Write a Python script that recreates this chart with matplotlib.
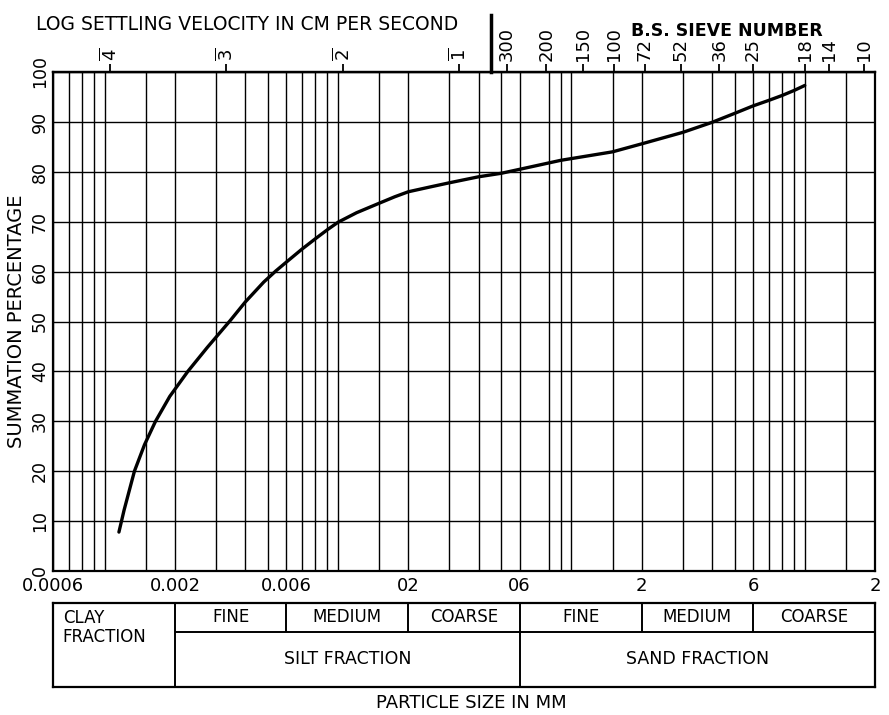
import matplotlib
matplotlib.use("Agg")
import matplotlib.pyplot as plt
from matplotlib.ticker import NullFormatter, NullLocator
import numpy as np

# grading curve (particle size in mm, summation %)
size_mm = [0.00115, 0.00121, 0.00128, 0.00134, 0.00148, 0.00165, 0.0019, 0.00227,
           0.00275, 0.00345, 0.0040, 0.0048, 0.0054, 0.006, 0.007, 0.008, 0.009,
           0.01, 0.012, 0.015, 0.0175, 0.02, 0.025, 0.03, 0.04, 0.05, 0.06, 0.09,
           0.15, 0.2, 0.3, 0.4, 0.5, 0.6, 0.7, 0.8, 0.9, 1.0]
percent = [7.8, 12.2, 16.5, 20.0, 25.3, 30.0, 35.0, 40.0,
           44.8, 50.2, 53.9, 57.9, 60.1, 61.9, 64.5, 66.6, 68.4,
           69.9, 71.8, 73.7, 75.0, 76.0, 77.0, 77.8, 79.0, 79.7, 80.5, 82.3,
           84.0, 85.6, 87.9, 89.9, 91.7, 93.2, 94.3, 95.3, 96.3, 97.3]

# bottom scale
bottom_ticks = [0.0006, 0.002, 0.006, 0.02, 0.06, 0.2, 0.6, 2]
bottom_labels = ["0.0006", "0.002", "0.006", "02", "06", "2", "6", "2"]
grid_sizes = [0.0007, 0.0008, 0.0009, 0.001, 0.0015, 0.002, 0.003, 0.004, 0.005,
              0.006, 0.007, 0.008, 0.009, 0.01, 0.015, 0.02, 0.03, 0.04, 0.05,
              0.06, 0.08, 0.09, 0.1, 0.15, 0.2, 0.3, 0.4, 0.5, 0.6, 0.7, 0.8,
              0.9, 1.0, 1.5]
pct_ticks = list(range(0, 101, 10))

# top scales
velocity_sizes = [0.00105, 0.0033, 0.0105, 0.033]
velocity_labels = [r"$\overline{4}$", r"$\overline{3}$", r"$\overline{2}$", r"$\overline{1}$"]
sieve_sizes = [0.053, 0.078, 0.112, 0.152, 0.206, 0.295, 0.43, 0.6, 1.0, 1.27, 1.8]
sieve_labels = ["300", "200", "150", "100", "72", "52", "36", "25", "18", "14", "10"]
scale_split = 0.045

# classification table under the chart
major_edges = [0.0006, 0.002, 0.06, 2]
major_names = ["CLAY\nFRACTION", "SILT FRACTION", "SAND FRACTION"]
sub_edges = [0.002, 0.006, 0.02, 0.06, 0.2, 0.6, 2]
sub_names = ["FINE", "MEDIUM", "COARSE", "FINE", "MEDIUM", "COARSE"]

W, H = 889, 715
fig = plt.figure(figsize=(W / 100, H / 100), dpi=100)


def fx(px):
    return px / W


def fy(py):
    return 1 - py / H


left, right, top, bottom = 53, 875, 72, 571
ax = fig.add_axes([fx(left), fy(bottom), fx(right) - fx(left), fy(top) - fy(bottom)])
ax.plot(size_mm, percent, color="black", lw=2.4, solid_joinstyle="round",
        solid_capstyle="round", zorder=3)
ax.set_xscale("log")
ax.set_xlim(0.0006, 2)
ax.set_ylim(0, 100)
ax.set_xticks(bottom_ticks, labels=bottom_labels)
ax.set_xticks(grid_sizes, minor=True)
ax.xaxis.set_minor_formatter(NullFormatter())
ax.set_yticks(pct_ticks, labels=[str(p) for p in pct_ticks])
for lab in ax.get_yticklabels():
    lab.set_rotation(90)
    lab.set_va("center")
ax.tick_params(which="both", length=0)
ax.tick_params(axis="x", pad=4, labelsize=13)
ax.tick_params(axis="y", pad=3, labelsize=12.5)
ax.grid(True, which="both", color="black", lw=1.0)
for s in ax.spines.values():
    s.set_linewidth(1.6)

# top axis: settling velocity + sieve numbers
sec = ax.secondary_xaxis("top")
sec.set_xticks(velocity_sizes + sieve_sizes, labels=velocity_labels + sieve_labels)
sec.xaxis.set_minor_locator(NullLocator())
sec.tick_params(axis="x", direction="out", length=6, width=1.3, pad=2,
                labelsize=13, labelrotation=90)
sec.spines["top"].set_linewidth(1.6)
ax.plot([scale_split, scale_split], [1, 1 + (top - 15) / (bottom - top)],
        transform=ax.get_xaxis_transform(), color="black", lw=2.5, clip_on=False)

fig.text(fx(247), fy(24), "LOG SETTLING VELOCITY IN CM PER SECOND",
         ha="center", va="center", fontsize=13.5)
fig.text(fx(727), fy(31), "B.S. SIEVE NUMBER", ha="center", va="center",
         fontsize=12.5, weight="bold")
fig.text(fx(17), fy(321), "SUMMATION PERCENTAGE", rotation=90,
         ha="center", va="center", fontsize=14)

# table
t_top, t_bot, t_mid = 603, 687, 632
ax_t = fig.add_axes([fx(left), fy(t_bot), fx(right) - fx(left), fy(t_top) - fy(t_bot)])
ax_t.set_xscale("log")
ax_t.set_xlim(0.0006, 2)
ax_t.set_ylim(0, 1)
ax_t.xaxis.set_minor_locator(NullLocator())
ax_t.tick_params(which="both", bottom=False, labelbottom=False,
                 left=False, labelleft=False)
for s in ax_t.spines.values():
    s.set_linewidth(1.6)
split = (t_bot - t_mid) / (t_bot - t_top)

ax_t.vlines(major_edges[1:-1], 0, 1, color="black", lw=1.4)
ax_t.vlines([e for e in sub_edges[1:-1] if e not in major_edges], split, 1,
            color="black", lw=1.4)
ax_t.hlines(split, sub_edges[0], sub_edges[-1], color="black", lw=1.4)

for a, b, name in zip(sub_edges[:-1], sub_edges[1:], sub_names):
    ax_t.text(np.sqrt(a * b), (split + 1) / 2, name, ha="center", va="center",
              fontsize=12)
for a, b, name in zip(major_edges[1:-1], major_edges[2:], major_names[1:]):
    ax_t.text(np.sqrt(a * b), split / 2, name, ha="center", va="center",
              fontsize=12.5)
ax_t.annotate(major_names[0], xy=(major_edges[0], 1), xytext=(7, -4),
              textcoords="offset points", ha="left", va="top", fontsize=12,
              linespacing=1.1)

fig.text(fx(471), fy(703), "PARTICLE SIZE IN MM", ha="center", va="center",
         fontsize=13)

fig.savefig("out.png", dpi=100)
